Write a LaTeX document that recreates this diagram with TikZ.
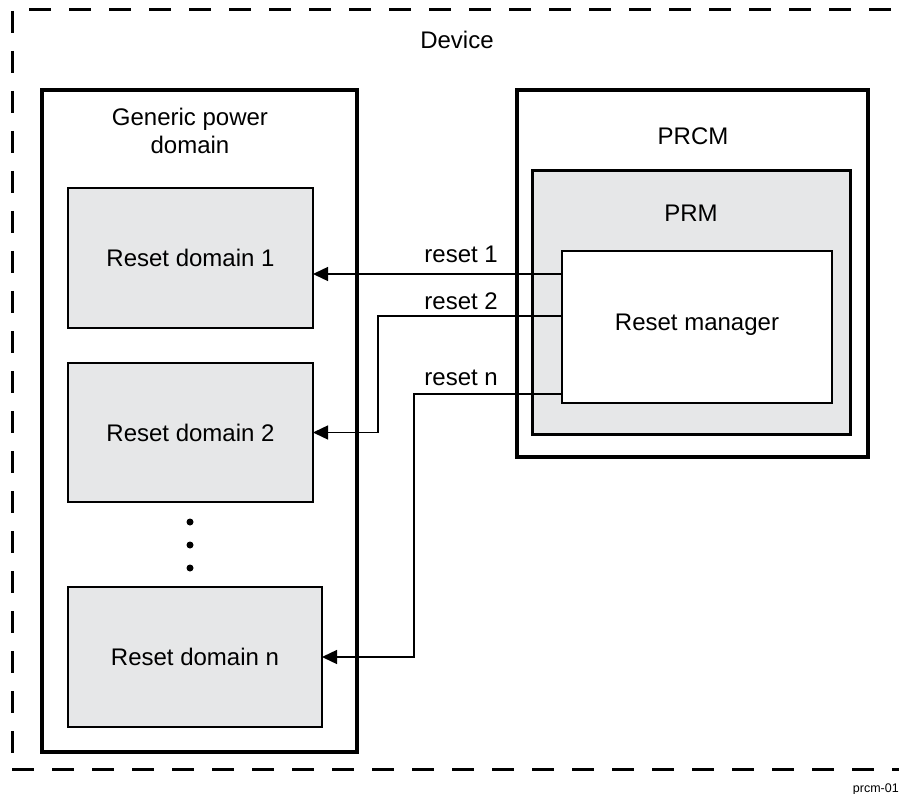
\documentclass[tikz,border=0pt]{standalone}
\usepackage{fontspec}
\setmainfont{Liberation Sans}
\usetikzlibrary{arrows.meta}
\definecolor{boxgray}{HTML}{E6E7E8}
\begin{document}
\begin{tikzpicture}[x=1pt,y=-1pt,
  box/.style={draw=black,rectangle,inner sep=0pt,outer sep=0pt,anchor=north west},
  domainbox/.style={box,line width=2pt,fill=boxgray},
  lbl/.style={font=\fontsize{24}{28}\selectfont,inner sep=0pt,align=center},
  sig/.style={line width=1.4pt,-{Triangle[length=15pt,width=14pt]}},
  dot/.style={circle,fill=black,inner sep=0pt,minimum size=7pt}]
\useasboundingbox (0,0) rectangle (899,794);
% Device (dashed)
\node[box,line width=3pt,dash pattern=on 22pt off 18pt,minimum width=900pt,minimum height=759pt] (device) at (12,10) {};
\node[lbl] (devicelbl) at (457,40) {Device};
% Generic power domain
\node[box,line width=4pt,minimum width=315pt,minimum height=662pt] (gpd) at (42,90) {};
\node[lbl] (gpdlbl) at (190,131) {Generic power\\domain};
\node[domainbox,minimum width=245pt,minimum height=140pt] (rd1) at (68,188) {};
\node[lbl] at (rd1.center) {Reset domain 1};
\node[domainbox,minimum width=245pt,minimum height=139pt] (rd2) at (68,363) {};
\node[lbl] at (rd2.center) {Reset domain 2};
\node[domainbox,minimum width=254pt,minimum height=140pt] (rdn) at (68,587) {};
\node[lbl] at (rdn.center) {Reset domain n};
\node[dot] (d1) at (190,522) {};
\node[dot] (d2) at (190,545) {};
\node[dot] (d3) at (190,568) {};
% PRCM
\node[box,line width=4pt,minimum width=351pt,minimum height=367pt] (prcm) at (517,90) {};
\node[lbl] (prcmlbl) at (693,136) {PRCM};
\node[box,line width=3pt,fill=boxgray,minimum width=318pt,minimum height=263pt] (prm) at (532,171) {};
\node[lbl] (prmlbl) at (691,213) {PRM};
\node[box,line width=1.4pt,fill=white,minimum width=270pt,minimum height=152pt] (rm) at (562,251) {};
\node[lbl] at (697,325) {Reset manager};
% signals
\coordinate (y1) at (0,274);
\coordinate (y2) at (0,316);
\coordinate (yn) at (0,394);
\coordinate (x2) at (378,0);
\coordinate (xn) at (414,0);
\draw[sig] (rm.west |- y1) -- (rd1.east |- y1);
\draw[sig] (rm.west |- y2) -- (x2 |- y2) -- (x2 |- rd2.east) -- (rd2.east);
\draw[sig] (rm.west |- yn) -- (xn |- yn) -- (xn |- rdn.east) -- (rdn.east);
\node[lbl,anchor=east] (l1) at (498,254) {reset 1};
\node[lbl,anchor=east] (l2) at (498,301) {reset 2};
\node[lbl,anchor=east] (ln) at (498,378) {reset n};
% figure id
\node[font=\fontsize{12.5}{14}\selectfont,inner sep=0pt,anchor=east] (fid) at (899,789) {prcm-01};
\end{tikzpicture}
\end{document}
